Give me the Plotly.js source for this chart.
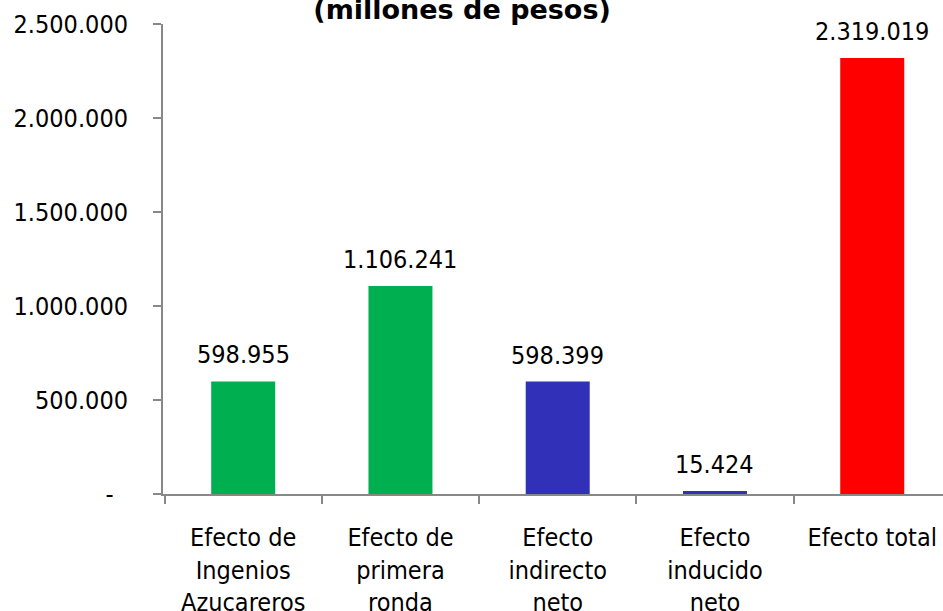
<!DOCTYPE html>
<html>
<head>
<meta charset="utf-8">
<script src="https://cdn.plot.ly/plotly-3.0.1.min.js"></script>
<style>html,body{margin:0;padding:0;background:#fff;}#chart{width:943px;height:611px;}</style>
</head>
<body>
<div id="chart"></div>
<script>
const categories = ["Efecto de<br>Ingenios<br>Azucareros", "Efecto de<br>primera<br>ronda", "Efecto<br>indirecto<br>neto", "Efecto<br>inducido<br>neto", "Efecto total"];
const values = [598955, 1106241, 598399, 15424, 2319019];
const barColors = ["#00B050", "#00B050", "#3030B8", "#3030B8", "#FF0000"];
const yTickVals = [0, 500000, 1000000, 1500000, 2000000, 2500000];
const yTickText = ["-\u00a0\u00a0", "500.000", "1.000.000", "1.500.000", "2.000.000", "2.500.000"];
const titleText = "(millones de pesos)";

const FONT = "'DejaVu Sans Condensed', 'DejaVu Sans', sans-serif";

function fmt(v) {
  return String(v).replace(/\B(?=(\d{3})+(?!\d))/g, ".");
}

const trace = {
  type: "bar",
  x: categories,
  y: values,
  marker: {color: barColors},
  width: 0.407,
  hoverinfo: "none"
};

const annotations = categories.map((c, i) => ({
  x: c, y: values[i], xref: "x", yref: "y",
  text: fmt(values[i]), showarrow: false,
  yanchor: "bottom", yshift: 10,
  font: {family: FONT, size: 25, color: "#000"}
}));

const layout = {
  width: 943, height: 611,
  margin: {l: 163, r: 0, t: 24, b: 117},
  paper_bgcolor: "#fff", plot_bgcolor: "#fff",
  showlegend: false,
  font: {family: FONT, size: 25, color: "#000"},
  title: {
    text: "<b>" + titleText + "</b>",
    font: {family: "'DejaVu Sans', sans-serif", size: 27, color: "#000"},
    x: 0.49, xref: "container", xanchor: "center",
    y: 0.984, yref: "container", yanchor: "middle"
  },
  xaxis: {
    type: "category",
    range: [-0.51, 4.45],
    showline: true, linecolor: "#888888", linewidth: 2,
    ticks: "outside", tickson: "boundaries", ticklen: 8, tickcolor: "#888888", tickwidth: 2,
    showgrid: false, zeroline: false,
    ticklabelstandoff: 20,
    tickfont: {family: FONT, size: 25, color: "#000"},
    fixedrange: true
  },
  yaxis: {
    range: [0, 2500000],
    tickvals: yTickVals, ticktext: yTickText,
    showline: true, linecolor: "#888888", linewidth: 2,
    ticks: "outside", ticklen: 8, tickcolor: "#888888", tickwidth: 2,
    showgrid: false, zeroline: false,
    ticklabelstandoff: 20,
    tickfont: {family: FONT, size: 25, color: "#000"},
    fixedrange: true
  },
  annotations: annotations
};

Plotly.newPlot("chart", [trace], layout, {staticPlot: true, displayModeBar: false});
</script>
</body>
</html>
